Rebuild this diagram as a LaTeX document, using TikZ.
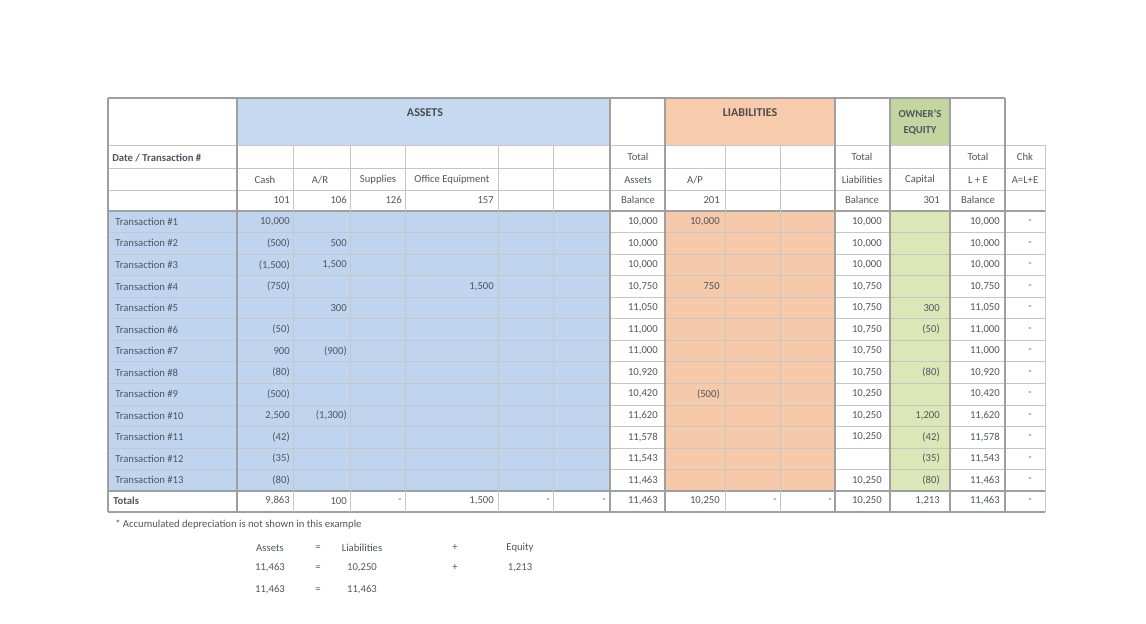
\documentclass[tikz,border=0pt]{standalone}
\usepackage{fontspec}
\setmainfont{Carlito}
\definecolor{hdrblue}{HTML}{C5D9F1}
\definecolor{datablue}{HTML}{BFD4EE}
\definecolor{hdrorange}{HTML}{F8CBAD}
\definecolor{dataorange}{HTML}{F5C9AA}
\definecolor{hdrgreen}{HTML}{C4D59F}
\definecolor{datagreen}{HTML}{DCE7B8}
\definecolor{txtgray}{HTML}{505560}
\newcommand\rowy[1]{211+21.54*(#1-0.5)}
\newcommand\val[3]{\node[txt,anchor=east] at (#1,{\rowy{#2}}) {#3};}
\begin{document}
\begin{tikzpicture}[x=0.75pt,y=-0.75pt,
  txt/.style={font=\fontsize{8}{9}\selectfont, text=txtgray, inner sep=0pt},
  hdr/.style={font=\fontsize{8}{9}\selectfont\bfseries, text=txtgray, inner sep=0pt},
  title/.style={font=\fontsize{9}{10}\selectfont\bfseries, text=black!70, inner sep=0pt},
  minor/.style={draw=gray!45, line width=0.5pt},
  major/.style={draw=gray!75, line width=1.3pt}]
\useasboundingbox (0,0) rectangle (1146,624);
% fills
\fill[hdrblue] (237,98) rectangle (610,145);
\fill[hdrorange] (665,98) rectangle (835,145);
\fill[hdrgreen] (890,98) rectangle (950,145);
\fill[datablue] (108,211) rectangle (610,491);
\fill[dataorange] (665,211) rectangle (835,491);
\fill[datagreen] (890,211) rectangle (950,491);
% horizontal grid
\foreach \yy in {145,168,190} \draw[minor] (108,\yy) -- (1045,\yy);
\foreach \i in {1,...,12} \draw[minor] (108,{211+21.54*\i}) -- (1045,{211+21.54*\i});
\draw[major] (108,98) -- (1005,98);
\draw[major] (108,211) -- (1045,211);
\draw[major] (108,491) -- (1045,491);
\draw[major] (108,512) -- (1045,512);
% vertical grid (minor, below header)
\foreach \xx in {293,350,405,498,553,725,780} \draw[minor] (\xx,145) -- (\xx,512);
\draw[minor] (1045,145) -- (1045,512);
% vertical grid (major)
\foreach \xx in {108,237,610,665,835,890,950,1005} \draw[major] (\xx,98) -- (\xx,512);
% header texts
\node[title] (assets) at (425,113) {ASSETS};
\node[title] (liab) at (750,113) {LIABILITIES};
\node[hdr] (own1) at (920,114) {OWNER'S};
\node[hdr] (own2) at (920,131) {EQUITY};
\node[hdr,anchor=west] (dt) at (112,158) {Date / Transaction \#};
\foreach \x/\t in {638/{Total},862/{Total},978/{Total},1025/{Chk}}
  \node[txt] at (\x,157) {\t};
\foreach \x/\t in {265/{Cash},320/{A/R},378/{Supplies},452/{Office Equipment},638/{Assets},695/{A/P},862/{Liabilities},920/{Capital},978/{L + E},1025/{A=L+E}}
  \node[txt] at (\x,180) {\t};
\foreach \x/\t in {290/{101},347/{106},402/{126},494/{157},720/{201},940/{301}}
  \node[txt,anchor=east] at (\x,200) {\t};
\foreach \x in {638,862,978}
  \node[txt] at (\x,200) {Balance};
% row labels
\foreach \i in {1,...,13}
  \node[txt,anchor=west] at (115,{\rowy{\i}}) {Transaction \#\i};
% Cash
\val{290}{1}{10,000}\val{290}{2}{(500)}\val{290}{3}{(1,500)}\val{290}{4}{(750)}
\val{290}{6}{(50)}\val{290}{7}{900}\val{290}{8}{(80)}\val{290}{9}{(500)}
\val{290}{10}{2,500}\val{290}{11}{(42)}\val{290}{12}{(35)}\val{290}{13}{(80)}
% A/R
\val{347}{2}{500}\val{347}{3}{1,500}\val{347}{5}{300}\val{347}{7}{(900)}\val{347}{10}{(1,300)}
% Office equipment
\val{494}{4}{1,500}
% Total assets
\foreach \i/\v in {1/{10,000},2/{10,000},3/{10,000},4/{10,750},5/{11,050},6/{11,000},7/{11,000},8/{10,920},9/{10,420},10/{11,620},11/{11,578},12/{11,543},13/{11,463}}
  {\val{658}{\i}{\v}}
% A/P
\val{720}{1}{10,000}\val{720}{4}{750}\val{720}{9}{(500)}
% Total liabilities
\foreach \i/\v in {1/{10,000},2/{10,000},3/{10,000},4/{10,750},5/{10,750},6/{10,750},7/{10,750},8/{10,750},9/{10,250},10/{10,250},11/{10,250},13/{10,250}}
  {\val{882}{\i}{\v}}
% Equity
\val{940}{5}{300}\val{940}{6}{(50)}\val{940}{8}{(80)}\val{940}{10}{1,200}
\val{940}{11}{(42)}\val{940}{12}{(35)}\val{940}{13}{(80)}
% Total L+E
\foreach \i/\v in {1/{10,000},2/{10,000},3/{10,000},4/{10,750},5/{11,050},6/{11,000},7/{11,000},8/{10,920},9/{10,420},10/{11,620},11/{11,578},12/{11,543},13/{11,463}}
  {\val{1000}{\i}{\v}}
% check
\foreach \i in {1,...,13}
  \node[txt] at (1030,{\rowy{\i}}) {-};
% totals row
\node[hdr,anchor=west] (tot) at (113,501) {Totals};
\foreach \x/\v in {290/{9,863},347/{100},402/{-},494/{1,500},550/{-},606/{-},658/{11,463},720/{10,250},777/{-},832/{-},882/{10,250},940/{1,213},1000/{11,463}}
  \node[txt,anchor=east] at (\x,501) {\v};
\node[txt] at (1030,501) {-};
% note
\node[txt,anchor=west] (note) at (115,525) {* Accumulated depreciation is not shown in this example};
% equation
\node[txt] (e1) at (270,548) {Assets};
\node[txt] (e2) at (318,548) {=};
\node[txt] (e3) at (362,548) {Liabilities};
\node[txt] (e4) at (455,548) {+};
\node[txt] (e5) at (520,548) {Equity};
\node[txt] (f1) at (270,568) {11,463};
\node[txt] (f2) at (318,568) {=};
\node[txt] (f3) at (362,568) {10,250};
\node[txt] (f4) at (455,568) {+};
\node[txt] (f5) at (520,568) {1,213};
\node[txt] (g1) at (270,590) {11,463};
\node[txt] (g2) at (318,590) {=};
\node[txt] (g3) at (362,590) {11,463};
\end{tikzpicture}
\end{document}
